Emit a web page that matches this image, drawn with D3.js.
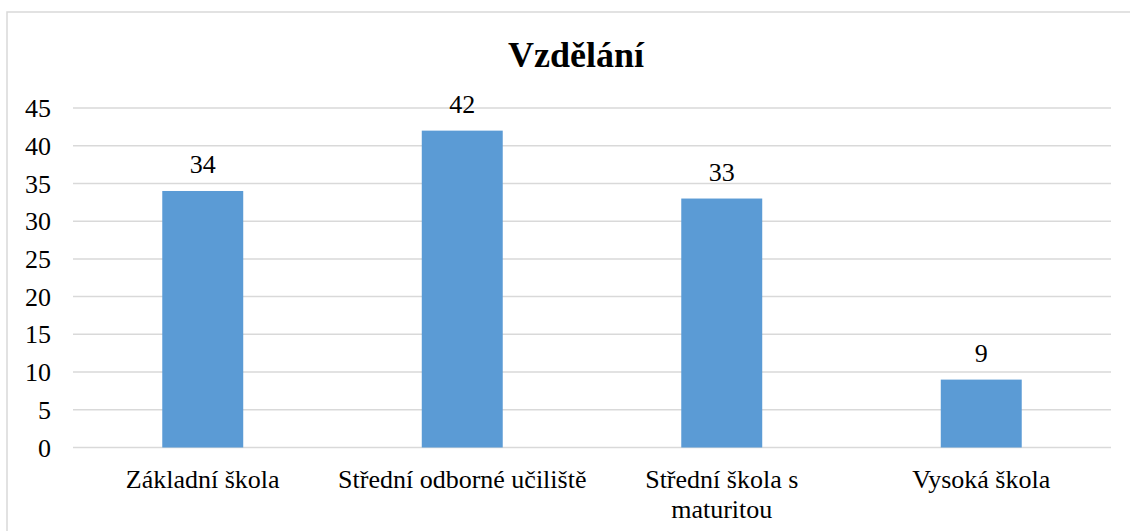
<!DOCTYPE html>
<html lang="cs">
  <head>
    <meta charset="utf-8">
    <title>Vzdělání</title>
    <style>
      body{ margin:0; background:#fff; }
      svg{ display:block; font-family:"Liberation Serif","Times New Roman",serif; }
      .frame{ fill:#fff; stroke:#d9d9d9; stroke-width:1.5; }
      .grid line{ stroke:#d9d9d9; stroke-width:1.5; }
      .bar{ fill:#5b9bd5; }
      .tick-label, .cat-label, .val-label{ font-size:26px; fill:#000; }
      .title{ font-size:36px; font-weight:bold; fill:#000; }
    </style>
  </head>
  <body>
    <div id="container"></div>
    <script src="https://cdn.jsdelivr.net/npm/d3@7"></script>
    <script>
      var categories = ["Základní škola", "Střední odborné učiliště", "Střední škola s maturitou", "Vysoká škola"];
      var values = [34, 42, 33, 9];
      var yTicks = [0, 5, 10, 15, 20, 25, 30, 35, 40, 45];

      var width = 1130, height = 531;
      var plotLeft = 73, plotRight = 1111, plotTop = 108, plotBottom = 447.5;

      var svg = d3.select('#container').append('svg')
        .attr('width', width).attr('height', height);

      svg.append('rect').attr('class', 'frame')
        .attr('x', 7).attr('y', 12).attr('width', 1150).attr('height', 560);

      var x = d3.scaleBand().domain(categories).range([plotLeft, plotRight]).paddingInner(0.688).paddingOuter(0.344);
      var y = d3.scaleLinear().domain([0, 45]).range([plotBottom, plotTop]);

      // gridlines
      svg.append('g').attr('class', 'grid')
        .selectAll('line').data(yTicks).enter()
        .append('line')
        .attr('x1', plotLeft).attr('x2', plotRight)
        .attr('y1', function(d){ return y(d); })
        .attr('y2', function(d){ return y(d); });

      // y axis labels
      svg.append('g').selectAll('text').data(yTicks).enter()
        .append('text').attr('class', 'tick-label')
        .attr('x', 51)
        .attr('y', function(d){ return y(d); })
        .attr('dy', '0.35em')
        .attr('text-anchor', 'end')
        .text(function(d){ return d; });

      // bars
      svg.append('g').selectAll('rect').data(values).enter()
        .append('rect').attr('class', 'bar')
        .attr('x', function(d, i){ return x(categories[i]); })
        .attr('width', x.bandwidth())
        .attr('y', function(d){ return y(d); })
        .attr('height', function(d){ return y(0) - y(d); });

      // value labels
      svg.append('g').selectAll('text').data(values).enter()
        .append('text').attr('class', 'val-label')
        .attr('x', function(d, i){ return x(categories[i]) + x.bandwidth()/2; })
        .attr('y', function(d){ return y(d) - 18; })
        .attr('text-anchor', 'middle')
        .text(function(d){ return d; });

      // category labels, wrapped to the band step
      var step = x.step();
      var cats = svg.append('g').selectAll('text').data(categories).enter()
        .append('text').attr('class', 'cat-label')
        .attr('text-anchor', 'middle')
        .attr('y', 488);

      cats.each(function(d){
        var t = d3.select(this);
        var cx = x(d) + x.bandwidth()/2;
        var words = d.split(' '), lines = [], line = [];
        var probe = t.append('tspan');
        words.forEach(function(w){
          line.push(w);
          probe.text(line.join(' '));
          if(probe.node().getComputedTextLength() > step - 4 && line.length > 1){
            line.pop();
            lines.push(line.join(' '));
            line = [w];
          }
        });
        lines.push(line.join(' '));
        probe.remove();
        lines.forEach(function(l, i){
          t.append('tspan').attr('x', cx).attr('y', 488 + i*30).text(l);
        });
      });

      // title
      svg.append('text').attr('class', 'title')
        .attr('x', 576).attr('y', 67)
        .attr('text-anchor', 'middle')
        .text('Vzdělání');
    </script>
  </body>
</html>
